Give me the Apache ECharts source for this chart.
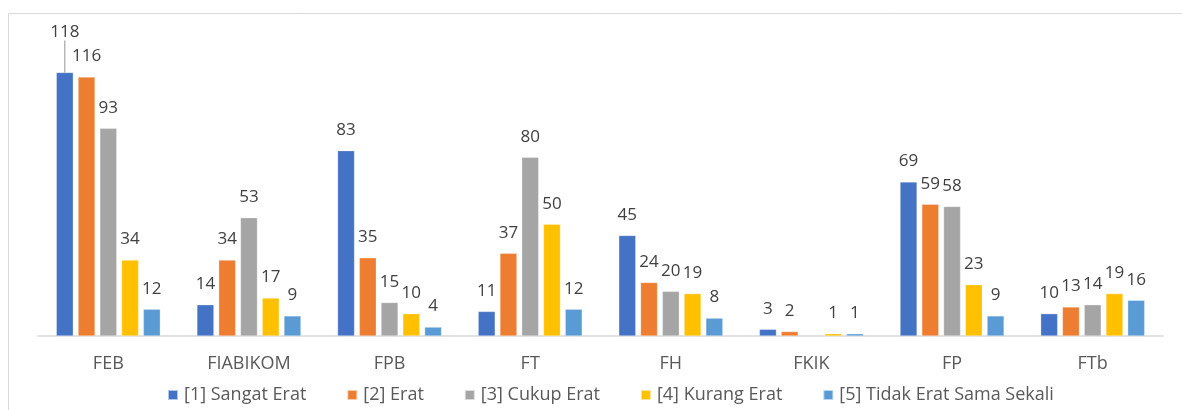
<!DOCTYPE html>
<html>
<head>
<meta charset="utf-8">
<script src="https://cdn.jsdelivr.net/npm/echarts@6/dist/echarts.min.js"></script>
<style>
  html, body { margin: 0; padding: 0; background: #fff; }
  #chart { width: 1182px; height: 410px; }
</style>
</head>
<body>
<div id="chart"></div>
<script>
var categories = ['FEB', 'FIABIKOM', 'FPB', 'FT', 'FH', 'FKIK', 'FP', 'FTb'];
var seriesNames = ['[1] Sangat Erat', '[2] Erat', '[3] Cukup Erat', '[4] Kurang Erat', '[5] Tidak Erat Sama Sekali'];
var sangatErat = [118, 14, 83, 11, 45, 3, 69, 10];
var erat = [116, 34, 35, 37, 24, 2, 59, 13];
var cukupErat = [93, 53, 15, 80, 20, null, 58, 14];
var kurangErat = [34, 17, 10, 50, 19, 1, 23, 19];
var tidakErat = [12, 9, 4, 12, 8, 1, 9, 16];
var colors = ['#4472C4', '#ED7D31', '#A5A5A5', '#FFC000', '#5B9BD5'];

var allData = [sangatErat, erat, cukupErat, kurangErat, tidakErat];
var font = '"Open Sans", "Noto Sans", sans-serif';

var chart = echarts.init(document.getElementById('chart'));

var series = allData.map(function (arr, i) {
  return {
    name: seriesNames[i],
    type: 'bar',
    barWidth: 17,
    barGap: '28%',
    itemStyle: { color: colors[i], borderColor: 'rgba(255,255,255,0.6)', borderWidth: 0.5 },
    label: {
      show: true,
      position: 'top',
      distance: 12,
      color: '#404040',
      fontSize: 17,
      fontFamily: font
    },
    labelLine: { show: false, lineStyle: { color: '#A5A5A5', width: 1.2 } },
    // the 118 label is pushed up above the 116 one, with a leader line
    labelLayout: function (p) {
      if (p.seriesIndex === 0 && p.dataIndex === 0) {
        return { dy: -20 };
      }
    },
    data: arr.map(function (v, j) {
      if (i === 0 && j === 0) {
        return { value: v, labelLine: { show: true, lineStyle: { color: '#A5A5A5', width: 1.2 } } };
      }
      return v;
    })
  };
});

chart.setOption({
  animation: false,
  graphic: [{
    type: 'polyline',
    shape: { points: [[8.5, 410], [8.5, 13.5], [1182, 13.5]] },
    style: { stroke: '#D9D9D9', lineWidth: 1, fill: null },
    silent: true
  }],
  legend: {
    data: seriesNames,
    bottom: 1,
    left: 162,
    itemWidth: 10,
    itemHeight: 10,
    itemGap: 40,
    icon: 'rect',
    textStyle: { color: '#595959', fontSize: 18, fontFamily: font, padding: [0, 0, 0, 1] }
  },
  grid: { left: 38, right: 19, top: 68, bottom: 74 },
  xAxis: {
    type: 'category',
    data: categories,
    axisLine: { lineStyle: { color: '#D9D9D9', width: 1.5 } },
    axisTick: { show: false },
    axisLabel: { color: '#595959', fontSize: 18, fontFamily: font, margin: 19 }
  },
  yAxis: {
    type: 'value',
    min: 0,
    max: 120,
    show: false,
    splitLine: { show: false }
  },
  series: series
});
</script>
</body>
</html>
